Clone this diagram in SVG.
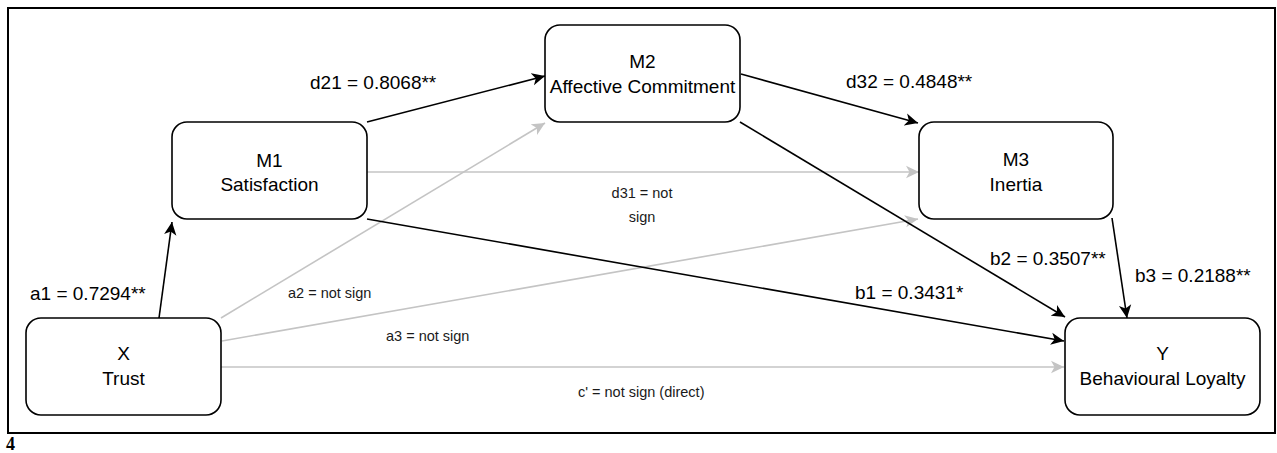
<svg xmlns="http://www.w3.org/2000/svg" width="1277" height="453" viewBox="0 0 1277 453">
<style>
.node{fill:#fff;stroke:#000;stroke-width:1.6}
.nt{font-family:"Liberation Sans",Arial,sans-serif;font-size:19px;fill:#000;text-anchor:middle}
.lb{font-family:"Liberation Sans",Arial,sans-serif;font-size:19px;fill:#000}
.sl{font-family:"Liberation Sans",Arial,sans-serif;font-size:14.5px;fill:#1a1a1a}
.blk{stroke:#000;stroke-width:1.6;fill:none;marker-end:url(#ab)}
.gry{stroke:#c4c4c4;stroke-width:1.6;fill:none;marker-end:url(#ag)}
</style>
<defs>
<marker id="ab" viewBox="0 0 14 14" refX="13" refY="7" markerWidth="14" markerHeight="14" markerUnits="userSpaceOnUse" orient="auto">
<path d="M0,0.8 L13,7 L0,13.2 L3.5,7 Z" fill="#000"/>
</marker>
<marker id="ag" viewBox="0 0 14 14" refX="13" refY="7" markerWidth="14" markerHeight="14" markerUnits="userSpaceOnUse" orient="auto">
<path d="M0,0.8 L13,7 L0,13.2 L3.5,7 Z" fill="#c4c4c4"/>
</marker>
</defs>
<rect x="8" y="8" width="1267" height="425" fill="#fff" stroke="#000" stroke-width="2"/>
<text x="6" y="450" font-family="'Liberation Serif','Times New Roman',serif" font-weight="bold" font-size="18px" fill="#000">4</text>
<g id="connectors">
<line class="gry" x1="367" y1="172" x2="919" y2="172"/>
<line class="gry" x1="221" y1="318" x2="545" y2="123"/>
<line class="gry" x1="222" y1="341" x2="918" y2="219"/>
<line class="gry" x1="221" y1="367" x2="1064" y2="367"/>
<line class="blk" x1="159" y1="318" x2="172" y2="222"/>
<line class="blk" x1="367" y1="122" x2="545" y2="76"/>
<line class="blk" x1="741" y1="74" x2="918" y2="123"/>
<line class="blk" x1="740" y1="122" x2="1065" y2="317"/>
<line class="blk" x1="367" y1="219" x2="1064" y2="341"/>
<line class="blk" x1="1112" y1="218" x2="1127" y2="318"/>
</g>
<g id="labels">
<text class="lb" x="310" y="89">d21 = 0.8068**</text>
<text class="lb" x="846" y="88">d32 = 0.4848**</text>
<text class="lb" x="30" y="300">a1 = 0.7294**</text>
<text class="lb" x="855" y="299">b1 = 0.3431*</text>
<text class="lb" x="990" y="265">b2 = 0.3507**</text>
<text class="lb" x="1135" y="282">b3 = 0.2188**</text>
<text class="sl" x="288" y="298">a2 = not sign</text>
<text class="sl" x="386" y="341">a3 = not sign</text>
<text class="sl" x="578" y="397">c' = not sign (direct)</text>
<text class="sl" x="642" y="198" text-anchor="middle">d31 = not</text>
<text class="sl" x="642" y="222" text-anchor="middle">sign</text>
</g>
<g id="M1">
<rect class="node" x="172" y="122" width="195" height="97" rx="15"/>
<text class="nt" x="269.5" y="167">M1</text>
<text class="nt" x="269.5" y="191">Satisfaction</text>
</g>
<g id="M2">
<rect class="node" x="545" y="25" width="195" height="97" rx="15"/>
<text class="nt" x="642.5" y="68">M2</text>
<text class="nt" x="642.5" y="93">Affective Commitment</text>
</g>
<g id="M3">
<rect class="node" x="919" y="122" width="194" height="97" rx="15"/>
<text class="nt" x="1016" y="166">M3</text>
<text class="nt" x="1016" y="191">Inertia</text>
</g>
<g id="X">
<rect class="node" x="26" y="318" width="195" height="97" rx="15"/>
<text class="nt" x="123.5" y="360">X</text>
<text class="nt" x="123.5" y="385">Trust</text>
</g>
<g id="Y">
<rect class="node" x="1065" y="318" width="195" height="97" rx="15"/>
<text class="nt" x="1162.5" y="360">Y</text>
<text class="nt" x="1162.5" y="385">Behavioural Loyalty</text>
</g>
</svg>
